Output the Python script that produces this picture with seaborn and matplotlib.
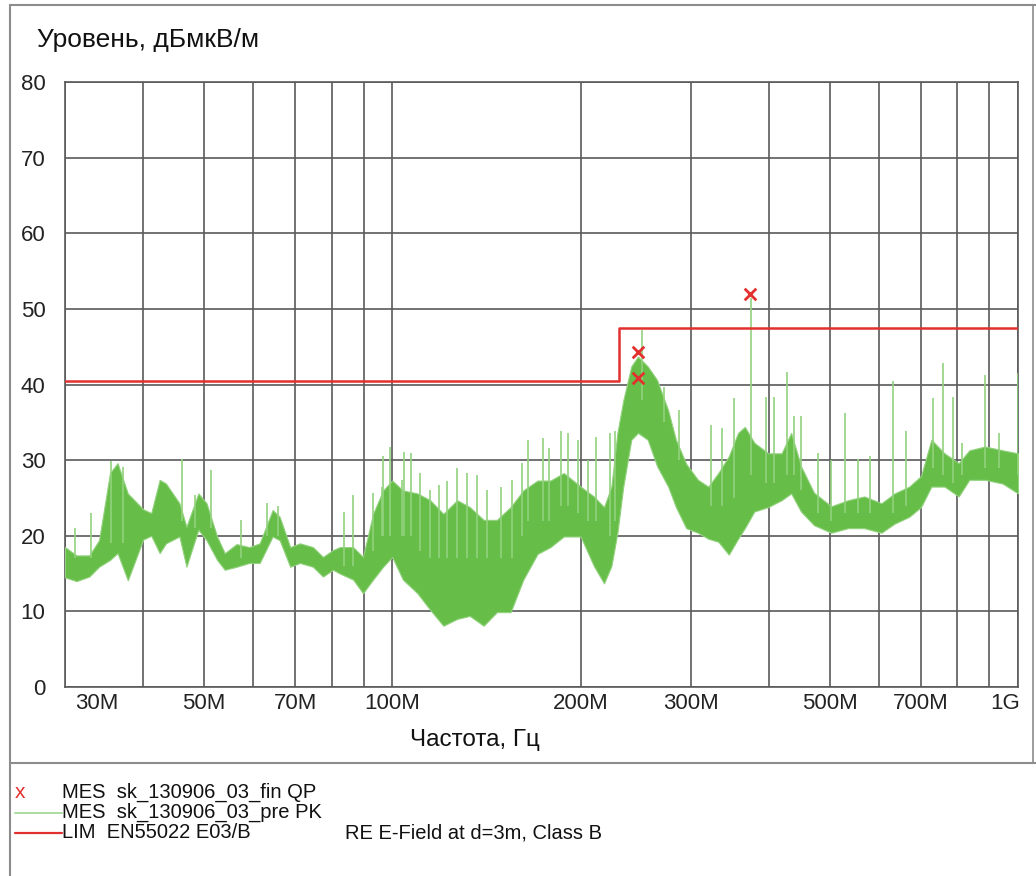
import numpy as np
import pandas as pd
import matplotlib
matplotlib.use("Agg")
import matplotlib.pyplot as plt
import matplotlib.transforms as mtransforms
from matplotlib.lines import Line2D
from matplotlib.ticker import FixedLocator, FixedFormatter, NullLocator
import seaborn as sns

# ---------------- data (frequencies in MHz, levels in dBµV/m) ----------------
band_freq = [30.0, 31.3, 32.8, 34.0, 35.4, 36.4, 37.8, 40.0, 41.2, 42.5, 43.5, 45.7,
             46.9, 49.0, 50.5, 52.5, 54.0, 56.4, 59.1, 61.4, 64.4, 66.1, 68.7, 71.2,
             74.7, 77.5, 80.4, 82.5, 86.6, 89.8, 93.2, 96.7, 100, 104, 109.7, 115,
             120.7, 127, 133, 140, 147, 154.6, 162, 170.7, 179, 188, 200, 210, 218,
             224, 229, 234, 241, 247, 256, 265, 276, 284, 295, 308, 320, 332, 345,
             357, 366, 379, 399, 419, 434, 450, 472, 503, 535, 568, 605, 635, 670,
             700, 727, 763, 804, 836, 886, 945, 1000]
band_low = [14.5, 14.0, 14.6, 15.9, 16.8, 17.7, 14.1, 19.5, 20.0, 17.7, 19.0, 19.9,
            15.9, 20.8, 19.4, 16.8, 15.5, 15.9, 16.4, 16.4, 19.9, 19.4, 15.9, 16.4,
            15.9, 14.6, 15.5, 15.0, 14.2, 12.4, 14.2, 15.9, 17.2, 14.2, 12.4, 10.2,
            8.1, 9.0, 9.4, 8.1, 9.9, 9.9, 14.2, 17.6, 18.5, 19.9, 19.9, 16.0, 13.7,
            16.0, 20.4, 26.5, 32.7, 33.6, 32.7, 29.2, 26.5, 23.8, 21.0, 20.4, 19.6, 19.2, 17.5,
            19.6, 21.0, 23.2, 23.8, 24.7, 25.6, 23.2, 21.4, 20.4, 21.0, 21.0, 20.4, 21.6, 22.5,
            23.8, 26.5, 26.5, 25.2, 27.4, 27.4, 26.9, 25.6]
band_high = [18.5, 17.4, 17.4, 19.4, 28.3, 29.6, 25.6, 23.5, 23.0, 27.4, 26.9, 24.3,
             21.2, 25.6, 24.3, 19.9, 17.7, 18.9, 18.5, 19.0, 23.4, 22.5, 18.5, 19.0,
             18.5, 17.2, 18.1, 18.5, 18.5, 17.2, 22.9, 26.0, 27.3, 26.0, 25.6, 24.7,
             22.9, 24.7, 23.8, 22.1, 22.1, 23.8, 26.0, 27.3, 27.3, 28.3, 26.5, 25.2, 23.8,
             26.5, 33.6, 37.9, 42.4, 43.7, 42.4, 40.6, 36.6, 32.7, 29.5, 27.4, 26.5, 28.3, 30.5,
             33.6, 34.4, 32.3, 30.9, 30.9, 33.6, 29.2, 25.7, 23.9, 24.7, 25.2, 24.3, 25.6, 26.5,
             27.9, 32.7, 30.9, 29.6, 31.3, 31.8, 31.3, 30.9]

spike_freq = [31.1, 33.0, 35.5, 37.1, 46.2, 48.4, 51.4, 57.4, 63.0, 65.7, 83.6, 86.7,
              93.3, 96.3, 96.7, 99.3, 103.6, 104.5, 107, 110.9, 115.1, 118.6, 122.4,
              127, 131.7, 136.7, 141.8, 149, 155.5, 161.3, 165, 174, 178.1, 186, 191,
              197.9, 205.3, 212, 223, 227, 251, 272, 287, 323, 336, 352, 375, 396,
              408, 428, 439, 450, 479, 503, 530, 556, 580, 632, 662, 732, 760, 786,
              813, 886, 933, 1000]
spike_base = [17, 17, 19, 19, 22, 21, 21, 17, 20, 20, 16, 16,
              18, 20, 20, 20, 20, 20, 20, 18, 17, 17, 17,
              17, 17, 17, 17, 17, 17, 20, 22, 22, 22, 24, 24,
              23, 22, 22, 20, 22, 38, 35, 30, 24, 24, 25, 28, 27,
              27, 28, 28, 26, 23, 22, 23, 23, 23, 23, 24, 29, 28, 27,
              28, 29, 29, 28]
spike_peak = [21.0, 23.0, 29.9, 29.1, 30.2, 25.4, 28.7, 22.1, 24.3, 23.9, 23.2, 25.4,
              25.6, 26.5, 30.5, 31.8, 27.4, 31.1, 30.9, 28.3, 26.1, 26.7, 27.2,
              28.9, 28.3, 28.0, 26.1, 26.5, 27.4, 29.6, 32.7, 32.9, 31.6, 33.8, 33.6,
              32.7, 30.0, 33.1, 33.6, 33.8, 47.2, 39.7, 36.6, 34.6, 34.2, 38.2, 51.5, 38.4,
              38.4, 41.7, 35.8, 35.8, 30.9, 30.0, 36.2, 30.2, 30.5, 40.4, 33.8, 38.2, 42.8, 38.4,
              32.2, 41.3, 33.6, 41.5]

qp_freq = [247, 247, 373]
qp_level = [44.3, 40.9, 52.0]

limit_freq = [30, 230, 230, 1000]
limit_level = [40.5, 40.5, 47.5, 47.5]

grid_freq = [30, 40, 50, 60, 70, 80, 90, 100, 200, 300, 400, 500, 600, 700, 800, 900, 1000]
grid_labels = ["30M", "", "50M", "", "70M", "", "", "100M", "200M", "300M", "",
               "500M", "", "700M", "", "", "1G"]
y_ticks = [0, 10, 20, 30, 40, 50, 60, 70, 80]

legend_texts = ["MES  sk_130906_03_fin QP", "MES  sk_130906_03_pre PK",
                "LIM  EN55022 E03/B"]
legend_extra = "RE E-Field at d=3m, Class B"
y_title = "Уровень, дБмкВ/м"
x_title = "Частота, Гц"

# ---------------- style ----------------
sns.set_style("white")
plt.rcParams["font.family"] = ["Liberation Sans", "DejaVu Sans"]

W, H = 1036, 876
fig = plt.figure(figsize=(W / 100, H / 100), dpi=100)
L, R, T, B = 65, 1018, 82, 687
ax = fig.add_axes([L / W, 1 - B / H, (R - L) / W, (B - T) / H])

GREEN = "#66bd48"
LIGHT_GREEN = "#92d27e"
RED = "#e2302e"
GRID = "#5a5a5a"
TXT = "#111111"

band = pd.DataFrame({"f": band_freq, "low": band_low, "high": band_high})
ax.fill_between(band["f"], band["low"], band["high"], color=GREEN, lw=0.8,
                edgecolor=LIGHT_GREEN, zorder=3)
ax.vlines(spike_freq, spike_base, spike_peak, color=LIGHT_GREEN, lw=1.2, zorder=3)

lim = pd.DataFrame({"f": limit_freq, "v": limit_level})
sns.lineplot(data=lim, x="f", y="v", ax=ax, color=RED, lw=1.8, sort=False,
             estimator=None, zorder=4)

qp = pd.DataFrame({"f": qp_freq, "v": qp_level})
sns.scatterplot(data=qp, x="f", y="v", ax=ax, marker="x", color=RED, s=70,
                linewidth=2, zorder=5)

ax.set_xscale("log")
ax.set_xlim(30, 1000)
ax.set_ylim(0, 80)
ax.xaxis.set_major_locator(FixedLocator(grid_freq))
ax.xaxis.set_major_formatter(FixedFormatter(grid_labels))
ax.xaxis.set_minor_locator(NullLocator())
ax.set_yticks(y_ticks)
ax.grid(True, color=GRID, lw=1.2)
for s in ax.spines.values():
    s.set_color(GRID)
    s.set_linewidth(1.2)
ax.tick_params(axis="both", length=0, labelsize=16, colors="#222222")
ax.tick_params(axis="y", pad=14)
ax.tick_params(axis="x", pad=4)
ax.set_xlabel("")
ax.set_ylabel("")
xl = ax.get_xticklabels()
xl[0].set_ha("left")
xl[-1].set_ha("right")
xl[0].set_transform(xl[0].get_transform() + mtransforms.ScaledTranslation(10 / 100, 0, fig.dpi_scale_trans))
xl[-1].set_transform(xl[-1].get_transform() + mtransforms.ScaledTranslation(2 / 100, 0, fig.dpi_scale_trans))

# titles
fig.text(37 / W, 1 - 40 / H, y_title, fontsize=19, va="center", ha="left", color=TXT)
fig.text(475 / W, 1 - 740 / H, x_title, fontsize=17.5, va="center", ha="center", color=TXT)

# outer frame
def fline(x0, y0, x1, y1, **kw):
    fig.add_artist(Line2D([x0 / W, x1 / W], [1 - y0 / H, 1 - y1 / H],
                          transform=fig.transFigure, **kw))

FRAME = "#8c8c8c"
fline(10, 5, 1036, 5, color=FRAME, lw=1.5)
fline(10, 5, 10, 876, color=FRAME, lw=1.5)
fline(1033, 5, 1033, 763, color=FRAME, lw=1.2)
fline(10, 763, 1036, 763, color=FRAME, lw=1.5)

# legend
leg_y = [792, 812.5, 833]
fig.text(20 / W, 1 - leg_y[0] / H, "x", color=RED, fontsize=15, ha="center", va="center")
fline(15, leg_y[1], 62, leg_y[1], color="#a9dca0", lw=1.4)
fline(15, leg_y[2], 62, leg_y[2], color=RED, lw=1.6)
for y, t in zip(leg_y, legend_texts):
    fig.text(62 / W, 1 - y / H, t, fontsize=14.5, ha="left", va="center", color=TXT)
fig.text(345 / W, 1 - leg_y[2] / H, legend_extra, fontsize=14.5, ha="left", va="center",
         color=TXT)

fig.savefig("out.png", dpi=100)
